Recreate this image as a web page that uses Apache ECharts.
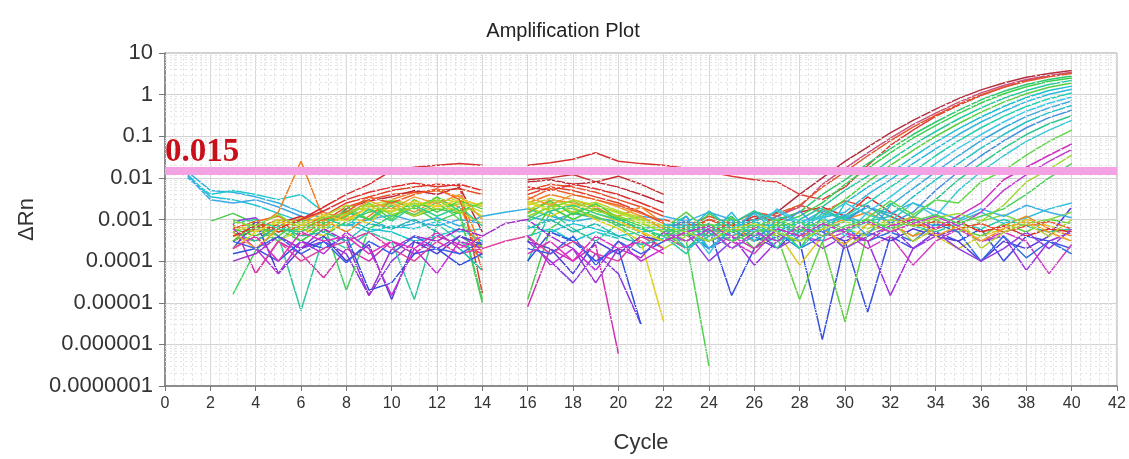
<!DOCTYPE html>
<html>
<head>
<meta charset="utf-8">
<title>Amplification Plot</title>
<script src="https://cdn.jsdelivr.net/npm/echarts@6/dist/echarts.min.js"></script>
<style>
  html, body { margin: 0; padding: 0; background: #fff; }
  #chart { width: 1129px; height: 459px; }
</style>
</head>
<body>
<div id="chart"></div>
<script>
const _ = null;

// cycle ranges
const earlyCycles = [1, 2, 3, 4, 5, 6, 7, 8, 9, 10, 11, 12, 13, 14, 15, 16, 17, 18, 19, 20, 21, 22];
const lateCycles = [22, 23, 24, 25, 26, 27, 28, 29, 30, 31, 32, 33, 34, 35, 36, 37, 38, 39, 40];
const yTickLabels = ['0.0000001', '0.000001', '0.00001', '0.0001', '0.001', '0.01', '0.1', '1', '10'];
const threshold = 0.015;

// early part of the run (cycles 1-22)
const e01 = [1.2e-2, 3.5e-3, 3e-3, 2.2e-3, 1.4e-3, 9e-4, 6e-4, 8e-4, 5e-4, 7e-4, 6e-4, 9e-4, 5e-4, 6e-4, _, 7e-4, 5e-4, 8e-4, 6e-4, 4e-4, 5e-4, 6e-4];
const e02 = [1.4e-2, 5e-3, 4.5e-3, 3.5e-3, 2.5e-3, 1.5e-3, 1.1e-3, 7e-4, 1e-3, 6e-4, 8e-4, 1.1e-3, 7e-4, 1.2e-3, 1.5e-3, 1.8e-3, 1.2e-3, 9e-4, 1.1e-3, 8e-4, 6e-4, 7e-4];
const e03 = [1e-2, 4e-3, 5e-3, 4e-3, 3e-3, 4e-3, 1.5e-3, 1e-3, 6e-4, 5e-4, 3e-4, 4e-4, 6e-4, 3e-4, _, 4e-4, 6e-4, 3e-4, 5e-4, 3.5e-4, _, _];
const e04 = [1.1e-2, 3e-3, 2.5e-3, 3e-3, 2e-3, 1.2e-3, 8e-4, 1.5e-3, 1e-3, 1.3e-3, 9e-4, 7e-4, 1e-3, 8e-4, _, 1.2e-3, 9e-4, 1.4e-3, 1.1e-3, 9e-4, 1.2e-3, 1e-3];
const e05 = [_, 9e-4, 1.4e-3, 8e-4, 5e-4, 6e-4, 4e-4, 9e-4, 1.5e-3, 2e-3, 1.2e-3, 1.8e-3, 1.4e-3, 1e-5, _, 1.2e-5, 6e-4, 1.5e-3, 1.1e-3, 8e-4, 5e-4, 3e-4];
const e06 = [_, _, 9e-4, 1.1e-3, 4e-4, 2e-4, 3e-4, 1.5e-4, 1.5e-5, 1e-4, 3e-4, 2e-4, 4e-4, 2e-4, _, 3e-4, 1e-4, 3e-5, 1.5e-4, 5e-5, 3e-6, _];
const e07 = [_, _, 8e-4, 5e-5, 3e-4, 1.5e-4, 4e-5, 2e-4, 1e-4, 3e-4, 1.5e-4, 4e-4, 2.5e-4, 1.5e-4, _, 8e-6, 2e-4, 1e-4, 2.5e-4, 6e-7, _, _];
const e08 = [_, _, 1.6e-5, 1.8e-4, 6e-4, 3e-4, 8e-4, 2e-5, 6e-4, 1.2e-3, 2e-3, 9e-4, 1.5e-3, 1.2e-5, _, _, _, _, _, _, _, _];
const e09 = [_, _, 3e-4, 9e-4, 4e-4, 6.5e-6, 4e-4, 2e-4, 5e-4, 3e-4, 1.2e-5, 8e-4, 3e-4, 1.2e-4, _, 1e-4, 1.5e-3, 6e-4, 3e-4, 8e-4, 2e-4, 5e-4];
const e10 = [_, _, 4e-4, 6e-4, 1.5e-3, 2.5e-2, 1e-3, 5e-4, 1.2e-3, 3e-3, 4.5e-3, 5e-3, 3.5e-3, 2e-4, _, 2.5e-3, 4e-3, 3e-3, 2e-3, 1e-3, 5e-4, 2e-4];
const e11 = [_, _, 5e-4, 3e-4, 8e-4, 1e-3, 2e-3, 4e-3, 7e-3, 1.5e-2, 1.8e-2, 2e-2, 2.2e-2, 2e-2, _, 2e-2, 2.3e-2, 2.8e-2, 4e-2, 2.5e-2, 2.2e-2, 2e-2];
const e12 = [_, _, 6e-4, 9e-4, 5e-4, 7e-4, 1.2e-3, 2.5e-3, 3.5e-3, 5e-3, 6e-3, 7e-3, 6.5e-3, 1.7e-5, _, 4e-3, 6e-3, 5e-3, 3.5e-3, 2.5e-3, 1.5e-3, 8e-4];
const e13 = [_, _, 3e-4, 6e-4, 1e-3, 4e-4, 9e-4, 2e-3, 3e-3, 4e-3, 4.5e-3, 5e-3, 5.5e-3, 4e-3, _, 5e-3, 7e-3, 6e-3, 4.5e-3, 3e-3, 2e-3, 1.2e-3];
const e14 = [_, _, 7e-4, 5e-4, 8e-4, 1.2e-3, 6e-4, 1.8e-3, 2.8e-3, 3.5e-3, 5e-3, 4e-3, 6e-3, 5e-4, _, 8e-3, 9e-3, 7e-3, 8e-3, 6e-3, 4e-3, 2.5e-3];
const e15 = [_, _, 2e-4, 4e-4, 7e-4, 9e-4, 1.5e-3, 1e-3, 2e-3, 2.5e-3, 1.5e-3, 3e-3, 2e-3, 1.5e-4, _, 1.5e-3, 3e-3, 2.5e-3, 1.8e-3, 1.2e-3, 2e-3, 8e-4];
const e16 = [_, _, 5e-4, 8e-4, 3e-4, 6e-4, 4e-4, 1.2e-3, 8e-4, 2.5e-3, 1.2e-3, 2.2e-3, 1.5e-3, 8e-4, _, 2e-3, 1.2e-3, 2e-3, 1e-3, 6e-4, 3e-4, 3.5e-6];
const e17 = [_, _, 4e-4, 3e-4, 6e-4, 5e-4, 9e-4, 1.5e-3, 2e-3, 1.5e-3, 2.5e-3, 1.8e-3, 2.4e-3, 1.2e-3, _, 1.8e-3, 2.5e-3, 1.5e-3, 2.2e-3, 1.5e-3, 1e-3, 6e-4];
const e18 = [_, _, 6e-4, 4e-4, 9e-4, 3e-4, 7e-4, 1.2e-3, 2.5e-3, 1e-3, 3e-3, 1.5e-3, 2.8e-3, 1.8e-3, _, 3e-4, 2e-3, 1e-3, 1.8e-3, 1e-3, 6e-4, 4e-4];
const e19 = [_, _, 1e-3, 6e-4, 3e-4, 8e-4, 5e-4, 2e-3, 1e-3, 2.2e-3, 1.3e-3, 2.6e-3, 1e-3, 2e-4, _, 1e-3, 2.2e-3, 1.8e-3, 1.2e-3, 7e-4, 4e-4, 2e-4];
const e20 = [_, _, 1.5e-4, 2e-4, 1e-4, 3e-4, 2e-4, 4e-4, 2e-5, 3e-5, 1.5e-4, 2e-4, 8e-5, 1.5e-4, _, 1e-4, 5e-4, 3e-4, 1e-4, 2e-4, 3e-6, _];
const e21 = [_, _, 2e-4, 9e-4, 5e-5, 2e-4, 4e-4, 1e-4, 2.5e-4, 1.2e-5, 3e-4, 1.5e-4, 4e-4, 2.5e-4, _, 3e-4, 2e-4, 5e-5, 3e-4, 1.5e-4, 4e-4, 3e-4];
const e22 = [_, _, 1e-4, 1.5e-4, 4e-4, 2e-4, 6e-4, 3e-4, 1.5e-5, 2e-4, 4e-4, 3e-4, 6e-4, 4e-4, 8e-4, 1e-3, 4e-4, 2e-4, 3e-5, 2e-4, 1.2e-4, 5e-4];
const e23 = [_, _, _, 5e-5, 3e-4, 1e-4, 2e-4, 3e-4, 5e-4, 2e-4, 1e-4, 3e-4, 1.5e-4, 2e-4, 3e-4, 4e-4, 1.5e-4, 3e-4, 1.5e-4, 1e-4, 4e-4, 2e-4];
const e24 = [_, _, 5e-4, 3e-4, 7e-4, 4e-4, 5e-4, 3e-4, 8e-4, 6e-4, 1e-3, 5e-4, 2e-4, 6e-5, _, 6e-4, 1e-3, 5e-4, 8e-4, 4e-4, 2.5e-4, 3.5e-4];
const e25 = [_, _, _, 6e-4, 8e-4, 1e-3, 6e-4, 1.4e-3, 2.2e-3, 3e-3, 2e-3, 3.2e-3, 2.6e-3, 1.5e-3, _, 2.8e-3, 1.8e-3, 3e-3, 2.2e-3, 1.4e-3, 9e-4, 5e-4];
const e26 = [_, _, 6e-4, 2e-4, 5e-5, 3e-4, 1.5e-4, 5e-4, 2e-4, 1.5e-5, 2e-4, 5e-5, 3e-4, 2e-4, _, 4e-4, 8e-5, 2e-4, 6e-5, 3e-4, 1e-4, 2e-4];
const e27 = [_, _, _, _, _, _, _, _, _, _, _, _, _, _, _, 9e-3, 1e-2, 1.2e-2, 8e-3, 1.1e-2, 7e-3, 4e-3];
const e28 = [_, _, 7e-4, 5e-4, 1e-3, 8e-4, 1.2e-3, 2.2e-3, 1.6e-3, 3e-3, 2.2e-3, 2.8e-3, 3.2e-3, 2e-3, _, 2.2e-3, 3.2e-3, 2e-3, 2.6e-3, 1.6e-3, 1.1e-3, 7e-4];
const e29 = [_, _, 3e-4, 7e-4, 4e-4, 1e-3, 8e-4, 1.6e-3, 1e-3, 2.8e-3, 1.8e-3, 3.5e-3, 1.6e-3, 2.5e-3, _, 1.4e-3, 2.8e-3, 1.3e-3, 2.4e-3, 1.1e-3, 7e-4, 3e-4];
const e30 = [_, _, 5e-4, 2e-4, 6e-4, 1.1e-3, 7e-4, 1.3e-3, 2.8e-3, 1.8e-3, 3.5e-3, 2.4e-3, 4e-3, 1e-3, _, 3.5e-3, 2.2e-3, 4e-3, 3e-3, 2e-3, 1.2e-3, 6e-4];
const e31 = [_, _, 4e-4, 7e-4, 6e-4, 1e-3, 1.6e-3, 3e-3, 4.5e-3, 6e-3, 7.5e-3, 6e-3, 7e-3, 5e-3, _, 6e-3, 5e-3, 7e-3, 5.5e-3, 4e-3, 2.5e-3, 1.5e-3];
const e32 = [_, _, 2e-4, 5e-4, 9e-4, 7e-4, 1.3e-3, 9e-4, 2e-3, 1.6e-3, 2.8e-3, 2e-3, 3e-3, 2.2e-3, _, 2.6e-3, 1.6e-3, 2.4e-3, 1.4e-3, 9e-4, 5e-4, 3e-4];
const e33 = [_, _, 8e-4, 1e-3, 6e-4, 5e-4, 1.1e-3, 7e-4, 1.8e-3, 9e-4, 2.2e-3, 1.2e-3, 2e-3, 7e-4, _, 9e-4, 1.6e-3, 2.2e-3, 1.4e-3, 1e-3, 6e-4, 4e-4];
const e34 = [_, _, 3e-4, 2e-4, 4e-4, 1.5e-4, 3e-4, 9e-5, 3e-4, 1.5e-4, 4e-4, 2e-4, 1.5e-4, 3e-4, _, 2e-4, 1.5e-4, 4e-4, 8e-5, 3e-4, 1.5e-4, 3e-4];
const e35 = [_, _, 6e-4, 9e-4, 1.2e-3, 6e-4, 1e-3, 1.5e-3, 3.5e-3, 2.5e-3, 4e-3, 5.5e-3, 3e-3, 6e-5, _, 3e-3, 5.5e-3, 4e-3, 3e-3, 2.2e-3, 1.4e-3, 9e-4];
const e36 = [_, _, 9e-4, 7e-4, 1.3e-3, 6e-4, 1.1e-3, 1.4e-3, 2.4e-3, 1.3e-3, 2e-3, 3e-3, 1.4e-3, 2.6e-3, _, 1.2e-3, 2e-3, 2.8e-3, 1.6e-3, 1.2e-3, 8e-4, 5e-4];
const e37 = [_, _, 2e-4, 4e-4, 1e-4, 5e-4, 3e-4, 4e-4, 1.5e-4, 3e-4, 2e-4, 5e-4, 2e-4, 4e-4, _, 1.5e-4, 3e-4, 1e-4, 4e-4, 2e-4, 3e-4, 1.5e-4];

const earlySeries = [e01, e02, e03, e04, e05, e06, e07, e08, e09, e10, e11, e12, e13, e14, e15, e16, e17, e18, e19, e20,
  e21, e22, e23, e24, e25, e26, e27, e28, e29, e30, e31, e32, e33, e34, e35, e36, e37];
const earlyColors = ['#22c4d8', '#30b0e0', '#20c8d0', '#40a8e8', '#50c850', '#8a3ae0', '#d030b0', '#40d060', '#30c8a0', '#f08020',
  '#d83030', '#e04028', '#e8502a', '#c02838', '#f09030', '#e0d020', '#a8d828', '#40d040', '#60d060', '#3050e0',
  '#5040d0', '#a030d0', '#e040a0', '#20b8b0', '#c0e030', '#c030d8', '#c83030', '#b8d830', '#48d048', '#f0a030',
  '#e03030', '#e8d028', '#30d090', '#3a60e8', '#f06028', '#90d830', '#e030c0'];

// late part, wells that stay at baseline (cycles 22-40)
const l01 = [5e-4, 3e-4, 6e-4, 1.5e-5, 2e-4, 4e-4, 3e-4, 1.3e-6, 3e-4, 6e-6, 4e-4, 2e-4, 5e-4, 3e-4, 6e-4, 1e-4, 4e-4, 3e-4, 2e-4];
const l02 = [6e-4, 3e-4, 3e-7, _, _, _, _, _, _, _, _, _, _, _, _, _, _, _, _];
const l03 = [3e-4, 5e-4, 2e-4, 4e-4, 8e-5, 3e-4, 5e-4, 2e-4, 4e-4, 3e-4, 1.5e-5, 2e-4, 4e-4, 6e-4, 3e-4, 4e-4, 6e-5, 3e-4, 5e-4];
const l04 = [_, 6e-4, 4e-4, 8e-4, 3e-4, 5e-4, 8e-5, 4e-4, 6e-4, 1e-3, 5e-4, 8e-4, 4e-4, 2e-4, 4e-4, 6e-4, 1e-3, 7e-4, 5e-4];
const l05 = [6e-4, 8e-4, 5e-4, 3e-4, 6e-4, 4e-4, 1.2e-5, 3e-4, 3.5e-6, 5e-4, 8e-4, 4e-4, 1e-3, 6e-4, 4e-4, 8e-4, 5e-4, 1e-3, 8e-4];
const l06 = [4e-4, 2e-4, 5e-4, 3e-4, 1.5e-4, 6e-4, 4e-4, 3e-4, 5e-4, 2e-4, 4e-4, 8e-5, 3e-4, 6e-4, 3e-4, 5e-4, 3e-4, 5e-5, 2.5e-4];
const l07 = [7e-4, 9e-4, 6e-4, 1e-3, 7e-4, 5e-4, 9e-4, 6e-4, 1.2e-3, 8e-4, 6e-4, 1e-3, 7e-4, 9e-4, 1.5e-3, 8e-4, 1.1e-3, 1.8e-3, 2.5e-3];
const l08 = [3e-4, 5e-4, 8e-4, 4e-4, 6e-4, 9e-4, 5e-4, 7e-4, 1e-3, 1.5e-3, 8e-4, 4e-4, 6e-4, 9e-4, 5e-4, 7e-4, 1.2e-3, 6e-4, 4e-4];
const l09 = [6e-4, 4e-4, 3e-4, 5e-4, 4e-4, 2e-4, 6e-4, 5e-4, 3e-4, 5e-4, 3e-4, 6e-4, 4e-4, 3e-4, 1e-4, 3e-4, 2e-4, 4e-4, 2e-3];
const l10 = [5e-4, 7e-4, 4e-4, 6e-4, 9e-4, 6e-4, 4e-4, 8e-4, 5e-4, 9e-4, 1.2e-3, 7e-4, 5e-4, 8e-4, 6e-4, 1e-3, 7e-4, 5e-4, 6e-4];
const l11 = [8e-4, 6e-4, 1e-3, 7e-4, 1.2e-3, 9e-4, 1.5e-3, 2e-3, 1.2e-3, 3.5e-3, 1.5e-3, 8e-4, 6e-4, 9e-4, 5e-4, 7e-4, 4e-4, 6e-4, 5e-4];
const l12 = [4e-4, 3e-4, 6e-4, 9e-4, 4e-4, 7e-4, 5e-4, 1e-3, 6e-4, 4e-4, 7e-4, 1.2e-3, 8e-4, 5e-4, 9e-4, 1.3e-3, 8e-4, 1e-3, 1.5e-3];
const l13 = [3e-4, 5e-4, 2e-4, 6e-4, 3e-4, 5e-4, 2e-4, 4e-4, 6e-4, 3e-4, 5e-4, 3e-4, 8e-4, 5e-4, 1e-4, 4e-4, 1.2e-4, 3e-4, 1.5e-4];
const l14 = [1e-3, 7e-4, 1.2e-3, 8e-4, 1.5e-3, 1.2e-3, 2.2e-3, 1.5e-3, 2.8e-3, 2e-3, 1.2e-3, 7e-4, 9e-4, 6e-4, 8e-4, 5e-4, 7e-4, 9e-4, 6e-4];
const l15 = [2e-4, 4e-4, 3e-4, 6e-4, 2e-4, 5e-4, 3e-4, 8e-4, 2e-4, 5e-4, 9e-4, 3e-4, 6e-4, 1.2e-3, 2e-4, 5e-4, 8e-4, 4e-4, 1e-3];
const l16 = [8e-4, 5e-4, 1e-4, 3e-4, 6e-4, 2e-4, 4e-4, 6e-4, 2e-4, 4e-4, 7e-4, 2e-4, 5e-4, 2e-4, 1e-4, 2e-4, 5e-4, 2e-4, 6e-4];
const l17 = [1.2e-3, 9e-4, 1.5e-3, 1e-3, 6e-4, 1.2e-3, 8e-4, 1.6e-3, 1e-3, 2e-3, 1.4e-3, 2.5e-3, 1.6e-3, 1e-3, 1.8e-3, 1.2e-3, 2.2e-3, 1.5e-3, 1.1e-3];
const l18 = [5e-4, 2e-4, 4e-4, 7e-4, 3e-4, 9e-4, 4e-4, 6e-4, 2.5e-4, 8e-4, 5e-4, 1.2e-3, 4e-4, 7e-4, 3e-4, 6e-4, 9e-4, 5e-4, 3e-4];

const baseSeries = [l01, l02, l03, l04, l05, l06, l07, l08, l09, l10, l11, l12, l13, l14, l15, l16, l17, l18];
const baseColors = ['#3a50e0', '#50d050', '#a030e0', '#d8c820', '#60d040', '#d040c0', '#30c0d8', '#f08a28', '#5a3ad8', '#28c8a8',
  '#d83030', '#88d850', '#3070e0', '#e85030', '#b0d030', '#9040e0', '#40b0e8', '#f0a020'];

// late part, amplified wells (cycles 22-40)
const a01 = [6e-4, 9e-4, 5e-4, 8e-4, 1e-3, 1.5e-3, 4e-3, 1e-2, 2.5e-2, 5.5e-2, 0.12, 0.24, 0.45, 0.8, 1.3, 1.9, 2.6, 3.2, 3.8];
const a02 = [2e-2, 1.7e-2, 1.4e-2, 1.1e-2, 9e-3, 8e-3, 4e-3, 3e-3, 6e-3, 2e-2, 0.06, 0.14, 0.3, 0.55, 0.95, 1.5, 2.2, 2.8, 3.4];
const a03 = [5e-4, 7e-4, 4e-4, 9e-4, 6e-4, 1.2e-3, 2e-3, 7e-3, 1.7e-2, 4e-2, 9e-2, 0.19, 0.36, 0.65, 1.1, 1.65, 2.3, 2.9, 3.4];
const a04 = [8e-4, 5e-4, 1e-3, 6e-4, 9e-4, 1.4e-3, 2.2e-3, 6e-3, 1.4e-2, 3.4e-2, 7.8e-2, 0.165, 0.32, 0.58, 1.0, 1.5, 2.1, 2.7, 3.2];
const a05 = [5e-4, 2e-4, 6e-4, 1.2e-3, 3e-4, 1e-3, 1.5e-3, 4e-3, 9e-3, 2.2e-2, 5e-2, 0.11, 0.22, 0.42, 0.75, 1.2, 1.75, 2.3, 2.8];
const a06 = [7e-4, 4e-4, 1.4e-3, 6e-4, 2e-4, 8e-4, 1.2e-3, 2.5e-3, 7e-3, 1.7e-2, 4e-2, 9e-2, 0.18, 0.35, 0.63, 1.05, 1.55, 2.1, 2.5];
const a07 = [4e-4, 1.5e-4, 8e-4, 3e-4, 9e-4, 2e-4, 1e-3, 2e-3, 5e-3, 1.1e-2, 2.7e-2, 6.2e-2, 0.13, 0.26, 0.48, 0.82, 1.25, 1.75, 2.2];
const a08 = [6e-4, 1.5e-3, 5e-4, 1.1e-3, 4e-4, 8e-4, 2e-4, 1.2e-3, 3e-3, 8e-3, 2e-2, 4.6e-2, 0.1, 0.2, 0.38, 0.66, 1.05, 1.5, 1.9];
const a09 = [5e-4, 7e-4, 2e-4, 6e-4, 1.4e-3, 5e-4, 9e-4, 3e-4, 2.5e-3, 6e-3, 1.3e-2, 3.2e-2, 7.2e-2, 0.15, 0.29, 0.52, 0.85, 1.25, 1.6];
const a10 = [8e-4, 2e-4, 4e-4, 1.5e-3, 3e-4, 1e-3, 4e-4, 1.1e-3, 1.5e-3, 4e-3, 9e-3, 2.2e-2, 5e-2, 0.11, 0.22, 0.4, 0.68, 1.02, 1.35];
const a11 = [6e-4, 1.2e-3, 3e-4, 5e-4, 1.6e-3, 6e-4, 2e-4, 7e-4, 1.2e-3, 2.5e-3, 6e-3, 1.4e-2, 3.4e-2, 7.7e-2, 0.16, 0.3, 0.52, 0.8, 1.1];
const a12 = [5e-4, 8e-4, 1.5e-4, 9e-4, 5e-4, 1.8e-3, 9e-4, 1.2e-3, 4e-4, 1.5e-3, 3.5e-3, 9e-3, 2.2e-2, 5.2e-2, 0.11, 0.22, 0.4, 0.62, 0.88];
const a13 = [4e-4, 1.2e-3, 2e-4, 5e-4, 1.5e-3, 1e-3, 3e-4, 8e-4, 1.3e-3, 4e-4, 2.2e-3, 5.5e-3, 1.4e-2, 3.4e-2, 7.8e-2, 0.16, 0.3, 0.48, 0.7];
const a14 = [7e-4, 5e-4, 1.6e-3, 6e-4, 1e-3, 3e-4, 5e-4, 1.4e-3, 1.1e-3, 2e-3, 1.2e-3, 3.5e-3, 9e-3, 2.2e-2, 5.2e-2, 0.11, 0.22, 0.37, 0.55];
const a15 = [6e-4, 9e-4, 5e-4, 2e-4, 4e-4, 6e-4, 1.6e-3, 5e-4, 9e-4, 2.2e-3, 8e-4, 1.5e-3, 5e-3, 1.4e-2, 3.4e-2, 7.7e-2, 0.16, 0.28, 0.42];
const a16 = [5e-4, 7e-4, 4e-4, 8e-4, 1.6e-3, 9e-4, 5e-4, 1.8e-3, 1e-3, 8e-4, 2.4e-3, 1.1e-3, 3e-3, 9e-3, 2.2e-2, 5.2e-2, 0.11, 0.2, 0.31];
const a17 = [8e-4, 5e-4, 7e-4, 4e-4, 9e-4, 1.6e-3, 8e-4, 1.1e-3, 2.5e-3, 1.3e-3, 9e-4, 2.5e-3, 1.2e-3, 5e-3, 1.4e-2, 3.4e-2, 7.5e-2, 0.14, 0.24];
const a18 = [6e-4, 4e-4, 8e-4, 5e-4, 7e-4, 1e-3, 6e-4, 9e-4, 5e-4, 1.1e-3, 2.8e-3, 1.3e-3, 3e-3, 2.5e-3, 8e-3, 1.5e-2, 3.5e-2, 7.5e-2, 0.14];
const a19 = [3e-4, 5e-4, 7e-4, 4e-4, 2e-4, 6e-4, 4e-4, 8e-4, 5e-4, 3e-4, 7e-4, 1e-3, 6e-4, 1.2e-3, 2.5e-3, 9e-3, 1.8e-2, 3.5e-2, 6.5e-2];
const a20 = [5e-4, 3e-4, 6e-4, 2e-4, 5e-4, 3e-4, 7e-4, 4e-4, 6e-4, 9e-4, 5e-4, 8e-4, 1.2e-3, 7e-4, 1.5e-3, 5e-3, 1.2e-2, 2.5e-2, 4.8e-2];
const a21 = [7e-4, 5e-4, 3e-4, 6e-4, 8e-4, 5e-4, 3e-4, 6e-4, 9e-4, 6e-4, 1e-3, 7e-4, 1.1e-3, 1.4e-3, 9e-4, 2.2e-3, 8e-3, 1.6e-2, 3.5e-2];
const a22 = [4e-4, 6e-4, 8e-4, 3e-4, 5e-4, 7e-4, 9e-4, 4e-4, 7e-4, 1e-3, 6e-4, 9e-4, 1.3e-3, 8e-4, 1.2e-3, 1.8e-3, 4e-3, 1e-2, 2.2e-2];

const ampSeries = [a01, a02, a03, a04, a05, a06, a07, a08, a09, a10, a11, a12, a13, a14, a15, a16, a17, a18, a19, a20, a21, a22];
const ampColors = ['#b03040', '#e03a3a', '#d05080', '#e05a30', '#30c870', '#3ad050', '#28c8a0', '#58d040', '#20c0d0', '#30b8e0',
  '#20d0b0', '#40c8e8', '#3aa8e0', '#28c0c8', '#4a90e0', '#30c890', '#38c8d8', '#60d848', '#d030c0', '#c040d0',
  '#a0d830', '#50d060'];

// log minor grid multipliers
const minorSteps = [2, 3, 4, 5, 6, 7, 8, 9];
const decades = [1e-7, 1e-6, 1e-5, 1e-4, 1e-3, 1e-2, 1e-1, 1];

function toPairs(cycles, values) {
    return values.map((v, i) => [cycles[i], v]);
}

function lineSeries(cycles, values, color) {
    return {
        type: 'line',
        data: toPairs(cycles, values),
        symbol: 'none',
        connectNulls: false,
        silent: true,
        z: 3,
        lineStyle: { color: color, width: 1.5 }
    };
}

const series = [];

// minor horizontal grid (log 2..9)
const minorLines = [];
for (const d of decades) {
    for (const m of minorSteps) minorLines.push({ yAxis: d * m });
}
series.push({
    type: 'line',
    data: [],
    z: 1,
    silent: true,
    markLine: {
        silent: true,
        precision: 12,
        symbol: ['none', 'none'],
        label: { show: false },
        lineStyle: { color: '#e4e4e4', type: [2, 3], width: 1 },
        data: minorLines
    }
});

earlySeries.forEach((s, i) => series.push(lineSeries(earlyCycles, s, earlyColors[i])));
baseSeries.forEach((s, i) => series.push(lineSeries(lateCycles, s, baseColors[i])));
ampSeries.forEach((s, i) => series.push(lineSeries(lateCycles, s, ampColors[i])));

// threshold
series.push({
    type: 'line',
    data: [],
    z: 6,
    silent: true,
    markLine: {
        silent: true,
        precision: 6,
        symbol: ['none', 'none'],
        lineStyle: { color: '#f3a2e4', type: 'solid', width: 8, opacity: 1 },
        label: {
            show: true,
            position: 'insideStartTop',
            distance: [0, 2],
            formatter: String(threshold),
            color: '#c8101a',
            fontFamily: "'Liberation Serif', 'Times New Roman', serif",
            fontWeight: 'bold',
            fontSize: 33
        },
        data: [{ yAxis: threshold }]
    }
});

const chart = echarts.init(document.getElementById('chart'), null, { renderer: 'canvas' });
chart.setOption({
    animation: false,
    backgroundColor: '#ffffff',
    textStyle: { fontFamily: "'Liberation Sans', Arial, sans-serif" },
    title: {
        text: 'Amplification Plot',
        left: 558,
        textAlign: 'center',
        top: 16,
        textStyle: { fontSize: 20, fontWeight: 'normal', color: '#222', fontFamily: "'Liberation Sans', Arial, sans-serif" }
    },
    grid: {
        left: 165,
        right: 12,
        top: 53,
        bottom: 69,
        show: true,
        borderColor: '#a0a0a0',
        borderWidth: 1,
        backgroundColor: '#ffffff'
    },
    xAxis: {
        type: 'value',
        min: 0,
        max: 42,
        interval: 2,
        name: 'Cycle',
        nameLocation: 'middle',
        nameGap: 46,
        nameTextStyle: { fontSize: 22, color: '#333' },
        axisLine: { show: true, onZero: false, lineStyle: { color: '#777', width: 1.5 } },
        axisTick: { show: true, length: 5, lineStyle: { color: '#777' } },
        axisLabel: { fontSize: 16, color: '#333', margin: 10 },
        splitLine: { show: true, lineStyle: { color: '#d8d8d8', width: 1 } },
        minorTick: { show: false, splitNumber: 5 },
        minorSplitLine: { show: true, lineStyle: { color: '#e6e6e6', type: [3, 2], width: 1 } }
    },
    yAxis: {
        type: 'log',
        logBase: 10,
        min: 1e-7,
        max: 10,
        splitNumber: 8,
        name: 'ΔRn',
        nameLocation: 'middle',
        nameGap: 126,
        nameTextStyle: { fontSize: 22, color: '#333' },
        axisLine: { show: true, onZero: false, lineStyle: { color: '#777', width: 1.5 } },
        axisTick: { show: true, length: 6, lineStyle: { color: '#777' } },
        axisLabel: {
            fontSize: 22,
            color: '#333',
            margin: 12,
            formatter: function (v) {
                const k = Math.round(Math.log10(v)) + 7;
                return yTickLabels[k] !== undefined ? yTickLabels[k] : String(v);
            }
        },
        splitLine: { show: true, lineStyle: { color: '#d2d2d2', width: 1 } }
    },
    series: series
});
</script>
</body>
</html>
